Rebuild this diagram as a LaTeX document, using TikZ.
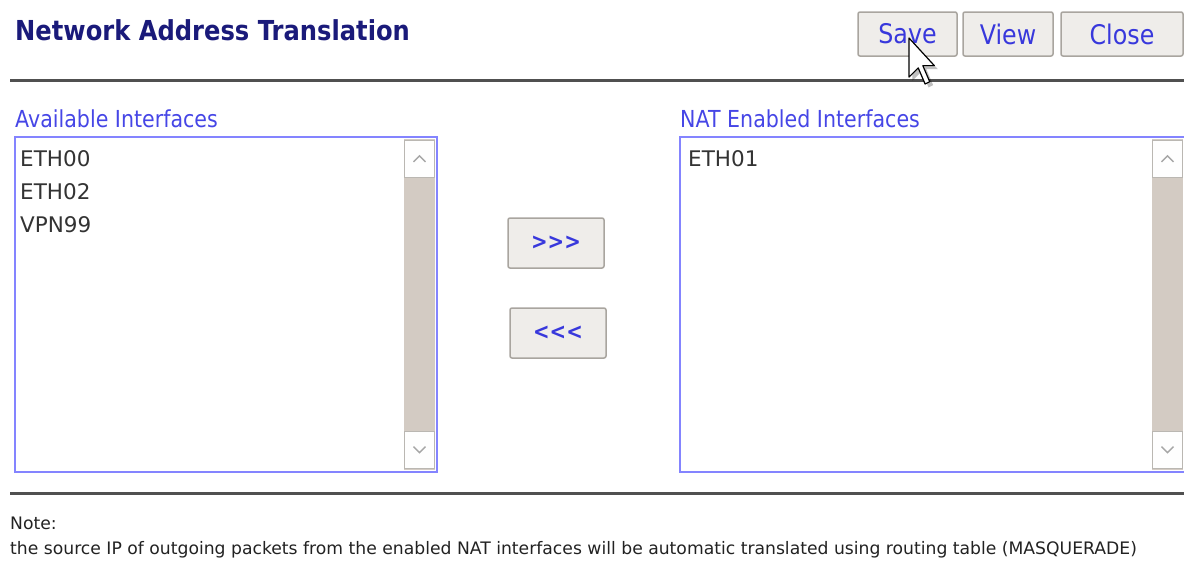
\documentclass[tikz,border=0pt]{standalone}
\usepackage{fontspec}
\setmainfont{DejaVu Sans}
\newfontfamily\guifont{DejaVu Sans}[FakeStretch=0.88]
\usetikzlibrary{positioning}
\definecolor{titleblue}{HTML}{1A1A7A}
\definecolor{labelblue}{HTML}{4646E6}
\definecolor{btnblue}{HTML}{3838DC}
\definecolor{boxborder}{HTML}{8484FF}
\definecolor{trackgray}{HTML}{D3CBC3}
\definecolor{btnfill}{HTML}{EFEDEA}
\definecolor{btnborder}{HTML}{A9A59F}
\definecolor{itemgray}{HTML}{333333}
\definecolor{notegray}{HTML}{222222}
\definecolor{rulegray}{HTML}{505050}
\tikzset{every node/.style={align=left}}

\begin{document}
\begin{tikzpicture}[x=1pt, y=-1pt,
    guibtn/.style={rectangle, rounded corners=2pt, draw=btnborder, fill=btnfill,
                   line width=1.5pt, text=btnblue, inner sep=0pt},
    listbox/.style={rectangle, draw=boxborder, fill=white, line width=2pt, inner sep=0pt},
    track/.style={rectangle, fill=trackgray, inner sep=0pt, minimum width=31pt},
    scrollbtn/.style={rectangle, draw=btnborder!80, fill=white!96!btnfill, line width=1pt,
                      inner sep=0pt, minimum width=30pt, minimum height=37pt},
    chevron/.style={draw=gray!70, line width=1.4pt},
    grplabel/.style={anchor=base west, inner sep=0pt, text=labelblue,
                     font=\guifont\fontsize{23.4}{27}\selectfont},
    item/.style={anchor=base west, inner sep=0pt, text=itemgray,
                 font=\fontsize{21.5}{24}\selectfont},
    notetext/.style={anchor=base west, inner sep=0pt, text=notegray,
                     font=\fontsize{17.2}{20}\selectfont},
    rule/.style={draw=rulegray, line width=3pt}
]
  \useasboundingbox (0,0) rectangle (1184,574);

  % --- header ---
  \node[anchor=base west, inner sep=0pt, text=titleblue,
        font=\guifont\bfseries\fontsize{27.5}{32}\selectfont] (title) at (15,40)
        {Network Address Translation};
  \node[guibtn, minimum width=99pt, minimum height=44pt,
        font=\guifont\fontsize{27}{30}\selectfont] (save)  at (907.5,34) {Save};
  \node[guibtn, minimum width=90pt, minimum height=44pt,
        font=\guifont\fontsize{27}{30}\selectfont] (view)  at (1008,34)  {View};
  \node[guibtn, minimum width=122pt, minimum height=44pt,
        font=\guifont\fontsize{27}{30}\selectfont] (close) at (1122,34)  {Close};
  \coordinate (topL) at (10,80);
  \coordinate (topR) at (1184,80);
  \draw[rule] (topL) -- (topR);

  % --- mouse pointer ---
  \begin{scope}[shift={(909,38)}, scale=2.3]
    \fill[black, opacity=0.25] (1.5,1.5) -- (1.5,18.5) -- (5.5,14.5) -- (8.5,21.5)
          -- (10.5,20.5) -- (7.5,13.5) -- (12.5,13.5) -- cycle;
    \draw[fill=white, line width=1.2pt, line join=round] (0,0) -- (0,17) -- (4,13)
          -- (7,20) -- (9,19) -- (6,12) -- (11,12) -- cycle;
  \end{scope}

  % --- available interfaces ---
  \node[grplabel] (availlbl) at (15,127) {Available Interfaces};
  \node[listbox, minimum width=422pt, minimum height=335pt] (availbox) at (226,304.5) {};
  \node[item] (eth00) at (20,166) {ETH00};
  \node[item] (eth02) at (20,199) {ETH02};
  \node[item] (vpn99) at (20,232) {VPN99};

  % --- move buttons ---
  \node[guibtn, minimum width=96pt, minimum height=50pt,
        font=\guifont\bfseries\fontsize{22.5}{26}\selectfont] (addbtn) at (556,243) {>{}>{}>};
  \node[guibtn, minimum width=96pt, minimum height=50pt,
        font=\guifont\bfseries\fontsize{22.5}{26}\selectfont] (rembtn) at (558,333) {<{}<{}<};

  % --- NAT enabled interfaces ---
  \node[grplabel] (natlbl) at (680,127) {NAT Enabled Interfaces};
  \node[listbox, minimum width=506pt, minimum height=335pt] (natbox) at (933,304.5) {};
  \node[item] (eth01) at (688,166) {ETH01};

  % --- scrollbars ---
  \foreach \bx/\sx in {availbox/419.5, natbox/1167.5} {
    \node[track, minimum height=331pt] (trk-\bx) at (\sx,304.5) {};
    \node[scrollbtn, below=1pt of trk-\bx.north] (up-\bx) {};
    \node[scrollbtn, above=1.5pt of trk-\bx.south] (dn-\bx) {};
    \draw[chevron] ([xshift=-6pt,yshift=-3pt]up-\bx.center) -- ([yshift=3pt]up-\bx.center)
                   -- ([xshift=6pt,yshift=-3pt]up-\bx.center);
    \draw[chevron] ([xshift=-6pt,yshift=3pt]dn-\bx.center) -- ([yshift=-3pt]dn-\bx.center)
                   -- ([xshift=6pt,yshift=3pt]dn-\bx.center);
  }

  % --- footer note ---
  \coordinate (botL) at (10,493);
  \coordinate (botR) at (1184,493);
  \draw[rule] (botL) -- (botR);
  \node[notetext] (notehead) at (10,529) {Note:};
  \node[notetext] (notebody) at (10,554)
       {the source IP of outgoing packets from the enabled NAT interfaces will be automatic translated using routing table (MASQUERADE)};
\end{tikzpicture}
\end{document}
